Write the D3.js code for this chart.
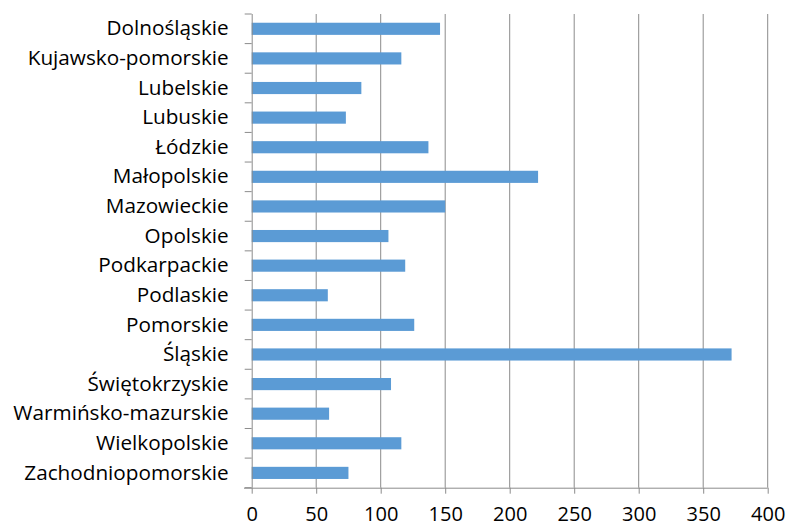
<!DOCTYPE html>
<html><head><meta charset="utf-8">
<script src="https://cdn.jsdelivr.net/npm/d3@7"></script>
<style>body{margin:0;background:#fff}</style>
</head><body>
<svg id="c" width="787" height="527"></svg>
<script>
const categories = ["Dolnośląskie","Kujawsko-pomorskie","Lubelskie","Lubuskie","Łódzkie","Małopolskie","Mazowieckie","Opolskie","Podkarpackie","Podlaskie","Pomorskie","Śląskie","Świętokrzyskie","Warmińsko-mazurskie","Wielkopolskie","Zachodniopomorskie"];
const values = [146,116,85,73,137,222,150,106,119,59,126,372,108,60,116,75];
const xTicks = [0,50,100,150,200,250,300,350,400];

const svg = d3.select("#c");
const m = {left:251.7, right:767.7, top:14, bottom:487.7};
const x = d3.scaleLinear().domain([0,400]).range([m.left, m.right]);
const y = d3.scaleBand().domain(categories).range([m.top, m.bottom]).paddingInner(0.59).paddingOuter(0.295);
const fontFam = "'Open Sans', Lato, sans-serif";

// gridlines
svg.append("g").selectAll("line").data(xTicks.slice(1)).join("line")
  .attr("x1", d=>x(d)).attr("x2", d=>x(d)).attr("y1", m.top).attr("y2", m.bottom)
  .attr("stroke", "#8c8c8c").attr("stroke-width", 1);

// bars
svg.append("g").selectAll("rect").data(categories).join("rect")
  .attr("x", x(0)).attr("y", d=>y(d))
  .attr("width", (d,i)=>x(values[i])-x(0)).attr("height", y.bandwidth())
  .attr("fill", "#5b9bd5");

// x axis
const xa = svg.append("g").attr("transform", `translate(0,${m.bottom})`)
  .call(d3.axisBottom(x).tickValues(xTicks).tickSize(6).tickPadding(13).tickSizeOuter(0));
xa.select(".domain").attr("stroke", "#8c8c8c").attr("d", `M244,0.5H${m.right}`);
xa.selectAll(".tick line").attr("stroke", "#8c8c8c");
xa.selectAll("text").attr("font-family", fontFam).attr("font-size", 19).attr("fill", "#000");
{
  const t = xa.selectAll("text").filter(d=>d===400).node();
  const w = t.getComputedTextLength();
  xa.selectAll("text").attr("font-size", Math.min(20, 19*34.7/w));
}

// y axis
const ya = svg.append("g").attr("transform", `translate(${m.left},0)`)
  .call(d3.axisLeft(d3.scaleBand().domain(categories).range([m.top, m.bottom])).tickSize(0).tickPadding(23));
ya.select(".domain").attr("stroke", "#8c8c8c").attr("d", `M0.5,${m.top}V${m.bottom}`);
ya.selectAll("text").attr("font-family", fontFam).attr("font-size", 18).attr("fill", "#000");
{
  const t = ya.selectAll("text").filter(d=>d==="Kujawsko-pomorskie").node();
  const w = t.getComputedTextLength();
  ya.selectAll("text").attr("font-size", 18*201/w);
}
// category tick marks at band boundaries
const bounds = d3.range(categories.length+1).map(i => m.top + i*(m.bottom-m.top)/categories.length);
svg.append("g").selectAll("line").data(bounds).join("line")
  .attr("x1", m.left-7).attr("x2", m.left).attr("y1", d=>d).attr("y2", d=>d)
  .attr("stroke", "#8c8c8c");
</script>
</body></html>
